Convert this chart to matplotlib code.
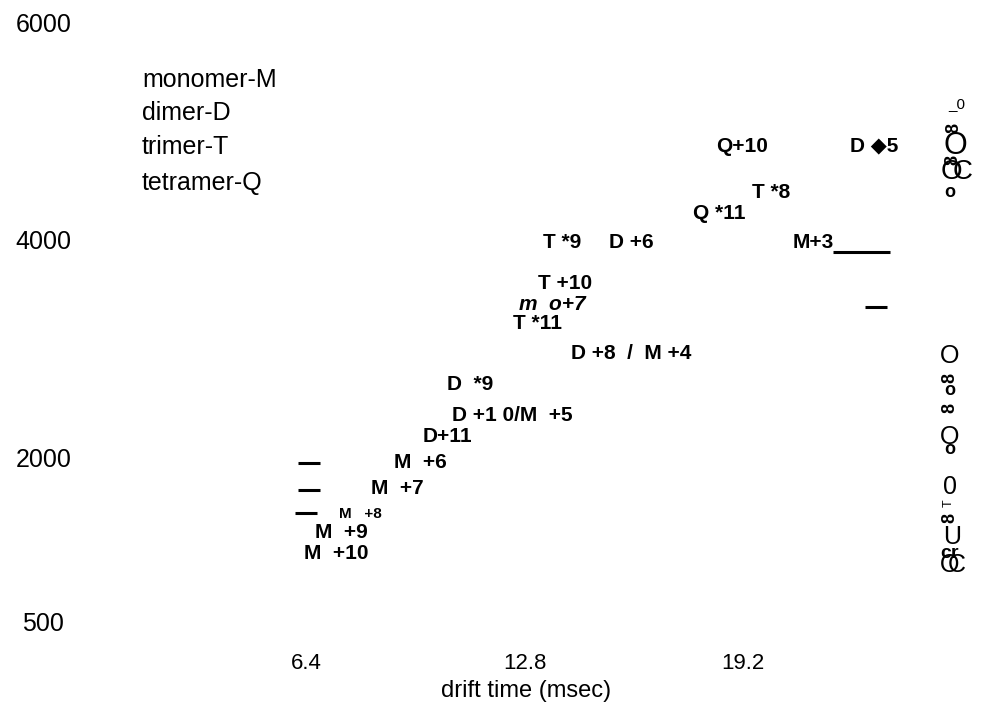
import matplotlib
matplotlib.use("Agg")
import matplotlib.pyplot as plt

plt.rcParams['font.family'] = ['Liberation Sans', 'DejaVu Sans']

# peak labels: text, drift time (msec), mass position
peak_text = ["Q+10", "D \u25C65", "T *8", "Q *11", "M+3", "T *9", "D +6",
             "T +10", "T *11", "D +8  /  M +4", "D  *9", "D +1 0/M  +5",
             "D+11", "M  +6", "M  +7", "M  +9", "M  +10"]
peak_time = [19.17, 23.04, 20.02, 18.50, 21.25, 13.90, 15.92,
             13.99, 13.17, 15.92, 11.20, 12.43,
             10.53, 9.74, 9.07, 7.45, 7.28]
peak_mass = [4861, 4861, 4430, 4246, 3980, 3980, 3980,
             3603, 3236, 2960, 2676, 2391,
             2190, 1951, 1721, 1317, 1124]

# smaller / italic labels
small_text, small_time, small_mass = "M   +8", 7.98, 1483
italic_text, italic_time, italic_mass = "m  o+7", 13.63, 3402

# short bars next to the peaks
bar_time = [6.49, 6.49, 6.40, 23.10]
bar_mass = [1951, 1703, 1492, 3383]
under_start, under_end, under_mass = 21.84, 23.51, 3888

# species key
key_text = ["monomer-M", "dimer-D", "trimer-T", "tetramer-Q"]
key_mass = [5467, 5164, 4852, 4521]

# scale glyphs on the right edge
edge_text = ["_0", "8", "O", "8", "O", "C", "o",
             "O", "8", "o", "8", "O", "o", "0", "T", "8", "U", "cr", "O", "C"]
edge_time = [25.45, 25.38, 25.41, 25.35, 25.30, 25.62, 25.26,
             25.26, 25.26, 25.26, 25.26, 25.26, 25.26, 25.26, 25.24, 25.26, 25.32, 25.26, 25.26, 25.45]
edge_mass = [5247, 5027, 4861, 4733, 4623, 4623, 4439,
             2933, 2732, 2612, 2456, 2190, 2079, 1730, 1584, 1445, 1272, 1124, 1014, 1014]
edge_size = [11, 13, 22, 13, 20, 20, 13,
             18, 13, 13, 13, 18, 13, 18, 9, 13, 18, 14, 18, 18]
edge_bold = [False, True, False, True, False, False, True,
             False, True, True, True, False, True, False, False, True, False, True, False, False]
edge_rot = [0, 90, 0, 90, 0, 0, 0,
            0, 90, 0, 90, 0, 0, 0, 90, 90, 0, 0, 0, 0]

x_ticks = [6.4, 12.8, 19.2]
y_ticks = [6000, 4000, 2000, 500]

fig = plt.figure(figsize=(10.03, 7.13), dpi=100)
ax = fig.add_axes([0.0847, 0.0954, 0.9153, 0.9046])
ax.set_xlim(-0.073, 26.816)
ax.set_ylim(280, 6202)
for s in ax.spines.values():
    s.set_visible(False)

ax.set_xticks(x_ticks)
ax.set_xticklabels([f"{v}" for v in x_ticks])
ax.set_yticks(y_ticks)
ax.set_yticklabels([str(v) for v in y_ticks], ha='center')
ax.tick_params(axis='x', length=0, pad=6, labelsize=16)
ax.tick_params(axis='y', length=0, pad=30, labelsize=18)
ax.set_xlabel("drift time (msec)", fontsize=17)
ax.xaxis.set_label_coords(0.480, -0.054)

for t, x, y in zip(peak_text, peak_time, peak_mass):
    ax.text(x, y, t, ha='center', va='center', fontsize=15, fontweight='bold')
ax.text(small_time, small_mass, small_text, ha='center', va='center',
        fontsize=11, fontweight='bold')
ax.text(italic_time, italic_mass, italic_text, ha='center', va='center',
        fontsize=15, fontweight='bold', fontstyle='italic')

ax.hlines(bar_mass, [t - 0.33 for t in bar_time], [t + 0.33 for t in bar_time],
          color='black', linewidth=2.2)
ax.hlines(under_mass, under_start, under_end, color='black', linewidth=2.2)

for t, y in zip(key_text, key_mass):
    ax.text(1.6, y, t, ha='left', va='center', fontsize=18)

for t, x, y, sz, b, r in zip(edge_text, edge_time, edge_mass, edge_size, edge_bold, edge_rot):
    ax.text(x, y, t, ha='center', va='center', fontsize=sz,
            fontweight='bold' if b else 'normal', rotation=r)

fig.savefig("out.png", dpi=100)
